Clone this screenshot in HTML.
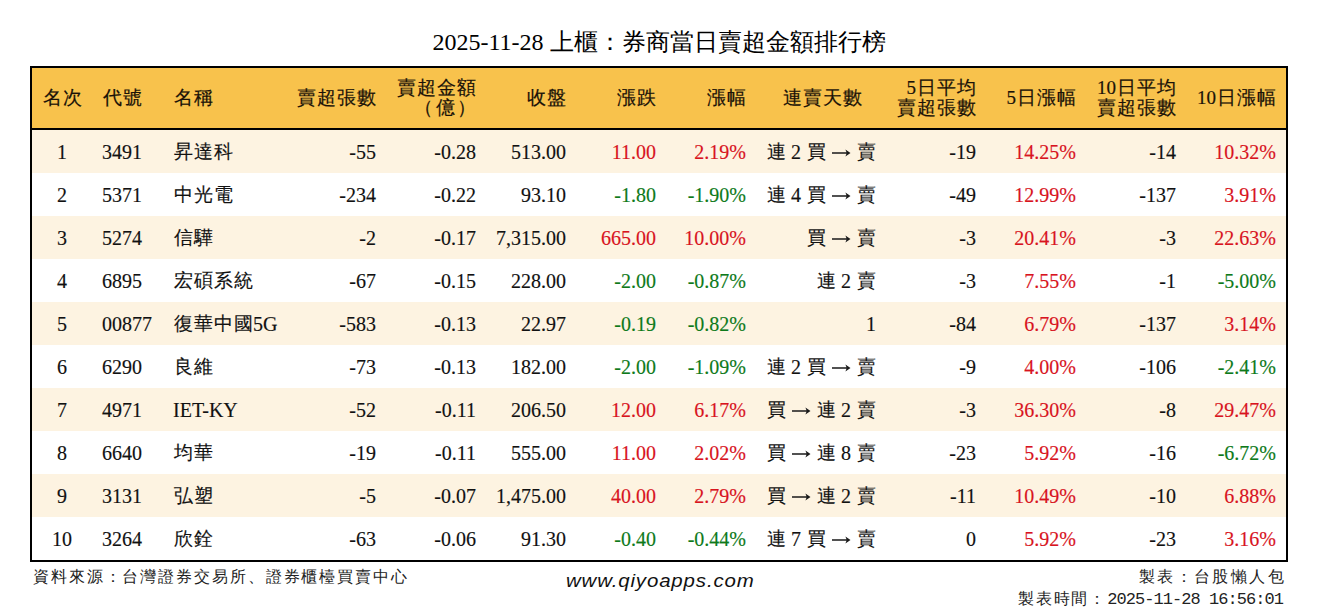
<!DOCTYPE html><html><head><meta charset="utf-8"><title>券商當日賣超金額排行榜</title><style>
*{margin:0;padding:0;box-sizing:border-box}
html,body{width:1318px;height:612px;background:#fff;overflow:hidden}
body{position:relative;font-family:"Liberation Serif",serif;color:#111}
.t{position:absolute;left:0;width:1318px;top:25px;height:34px;line-height:34px;font-size:24px;text-align:center;color:#000;white-space:nowrap}
.box{position:absolute;left:30px;top:66px;width:1258px;height:496px;border:2px solid #000}
.hd{position:absolute;left:32px;top:68px;width:1254px;height:60px;background:#F8C24C}
.hl{position:absolute;left:32px;top:128px;width:1254px;height:2px;background:#000}
.rw{position:absolute;left:32px;width:1254px;height:43px}
.cr{background:#FDF3E1}
.c{position:absolute;top:1px;height:43px;line-height:43px;font-size:20px;white-space:nowrap;-webkit-text-stroke:0.15px currentColor}
.h{position:absolute;font-size:19px;line-height:20px;white-space:nowrap;color:#1a1208;-webkit-text-stroke:0.2px #1a1208}
.s1{top:88px}
.s2{top:78px}
.k{font-size:19px;letter-spacing:1px;padding-left:.5px;margin-right:-.5px;line-height:1}
.c .k{position:relative;top:-1px}
.r{color:#D8141E}
.g{color:#0E7A1A}
.sans{font-family:"Liberation Sans",sans-serif}
.dg{font-family:"Liberation Mono",monospace;font-size:17px;letter-spacing:-0.95px}
.f{position:absolute;font-size:16px;letter-spacing:1.9px;line-height:20px;white-space:nowrap;color:#222}
.www{position:absolute;font-family:"Liberation Sans",sans-serif;font-style:italic;font-size:19px;line-height:22px;letter-spacing:0.8px;transform:scaleX(1.075);transform-origin:0 0;white-space:nowrap;color:#111}
</style></head><body>
<div class="t">2025-11-28 上櫃：券商當日賣超金額排行榜</div>
<div class="box"></div><div class="hd"></div><div class="hl"></div>
<div class="h s1" style="left:12px;width:100px;text-align:center"><span class="k">名次</span></div>
<div class="h s1" style="left:102px"><span class="k">代號</span></div>
<div class="h s1" style="left:173px"><span class="k">名稱</span></div>
<div class="h s1" style="right:942px;text-align:right"><span class="k">賣超張數</span></div>
<div class="h s2" style="right:842px;text-align:right"><span class="k">賣超金額</span><br><span class="k">（</span><span class="k" style="margin-left:2px">億</span><span class="k" style="margin-left:1px;margin-right:-1px">）</span></div>
<div class="h s1" style="right:752px;text-align:right"><span class="k">收盤</span></div>
<div class="h s1" style="right:662px;text-align:right"><span class="k">漲跌</span></div>
<div class="h s1" style="right:572px;text-align:right"><span class="k">漲幅</span></div>
<div class="h s1" style="right:456px;text-align:right"><span class="k">連賣天數</span></div>
<div class="h s2" style="right:342px;text-align:right">5<span class="k">日平均</span><br><span class="k">賣超張數</span></div>
<div class="h s1" style="right:242px;text-align:right">5<span class="k">日漲幅</span></div>
<div class="h s2" style="right:142px;text-align:right">10<span class="k">日平均</span><br><span class="k">賣超張數</span></div>
<div class="h s1" style="right:42px;text-align:right">10<span class="k">日漲幅</span></div>
<div class="rw cr" style="top:130px">
<div class="c" style="left:-20px;width:100px;text-align:center">1</div>
<div class="c" style="left:70px">3491</div>
<div class="c" style="left:141px"><span class="k">昇達科</span></div>
<div class="c" style="right:910px;text-align:right">-55</div>
<div class="c" style="right:810px;text-align:right">-0.28</div>
<div class="c" style="right:720px;text-align:right">513.00</div>
<div class="c r" style="right:630px;text-align:right">11.00</div>
<div class="c r" style="right:540px;text-align:right">2.19%</div>
<div class="c" style="right:410px;text-align:right"><span class="k">連</span> 2 <span class="k">買</span> <svg width="20" height="8" viewBox="0 0 20 8" style="vertical-align:2.5px"><path d="M1 3.15H16V4.85H1Z M14.4 0.5L19.5 4L14.4 7.5L15.8 4Z" fill="#1a1a1a"/></svg> <span class="k">賣</span></div>
<div class="c" style="right:310px;text-align:right">-19</div>
<div class="c r" style="right:210px;text-align:right">14.25%</div>
<div class="c" style="right:110px;text-align:right">-14</div>
<div class="c r" style="right:10px;text-align:right">10.32%</div>
</div>
<div class="rw" style="top:173px">
<div class="c" style="left:-20px;width:100px;text-align:center">2</div>
<div class="c" style="left:70px">5371</div>
<div class="c" style="left:141px"><span class="k">中光電</span></div>
<div class="c" style="right:910px;text-align:right">-234</div>
<div class="c" style="right:810px;text-align:right">-0.22</div>
<div class="c" style="right:720px;text-align:right">93.10</div>
<div class="c g" style="right:630px;text-align:right">-1.80</div>
<div class="c g" style="right:540px;text-align:right">-1.90%</div>
<div class="c" style="right:410px;text-align:right"><span class="k">連</span> 4 <span class="k">買</span> <svg width="20" height="8" viewBox="0 0 20 8" style="vertical-align:2.5px"><path d="M1 3.15H16V4.85H1Z M14.4 0.5L19.5 4L14.4 7.5L15.8 4Z" fill="#1a1a1a"/></svg> <span class="k">賣</span></div>
<div class="c" style="right:310px;text-align:right">-49</div>
<div class="c r" style="right:210px;text-align:right">12.99%</div>
<div class="c" style="right:110px;text-align:right">-137</div>
<div class="c r" style="right:10px;text-align:right">3.91%</div>
</div>
<div class="rw cr" style="top:216px">
<div class="c" style="left:-20px;width:100px;text-align:center">3</div>
<div class="c" style="left:70px">5274</div>
<div class="c" style="left:141px"><span class="k">信驊</span></div>
<div class="c" style="right:910px;text-align:right">-2</div>
<div class="c" style="right:810px;text-align:right">-0.17</div>
<div class="c" style="right:720px;text-align:right">7,315.00</div>
<div class="c r" style="right:630px;text-align:right">665.00</div>
<div class="c r" style="right:540px;text-align:right">10.00%</div>
<div class="c" style="right:410px;text-align:right"><span class="k">買</span> <svg width="20" height="8" viewBox="0 0 20 8" style="vertical-align:2.5px"><path d="M1 3.15H16V4.85H1Z M14.4 0.5L19.5 4L14.4 7.5L15.8 4Z" fill="#1a1a1a"/></svg> <span class="k">賣</span></div>
<div class="c" style="right:310px;text-align:right">-3</div>
<div class="c r" style="right:210px;text-align:right">20.41%</div>
<div class="c" style="right:110px;text-align:right">-3</div>
<div class="c r" style="right:10px;text-align:right">22.63%</div>
</div>
<div class="rw" style="top:259px">
<div class="c" style="left:-20px;width:100px;text-align:center">4</div>
<div class="c" style="left:70px">6895</div>
<div class="c" style="left:141px"><span class="k">宏碩系統</span></div>
<div class="c" style="right:910px;text-align:right">-67</div>
<div class="c" style="right:810px;text-align:right">-0.15</div>
<div class="c" style="right:720px;text-align:right">228.00</div>
<div class="c g" style="right:630px;text-align:right">-2.00</div>
<div class="c g" style="right:540px;text-align:right">-0.87%</div>
<div class="c" style="right:410px;text-align:right"><span class="k">連</span> 2 <span class="k">賣</span></div>
<div class="c" style="right:310px;text-align:right">-3</div>
<div class="c r" style="right:210px;text-align:right">7.55%</div>
<div class="c" style="right:110px;text-align:right">-1</div>
<div class="c g" style="right:10px;text-align:right">-5.00%</div>
</div>
<div class="rw cr" style="top:302px">
<div class="c" style="left:-20px;width:100px;text-align:center">5</div>
<div class="c" style="left:70px">00877</div>
<div class="c" style="left:141px"><span class="k">復華中國</span>5G</div>
<div class="c" style="right:910px;text-align:right">-583</div>
<div class="c" style="right:810px;text-align:right">-0.13</div>
<div class="c" style="right:720px;text-align:right">22.97</div>
<div class="c g" style="right:630px;text-align:right">-0.19</div>
<div class="c g" style="right:540px;text-align:right">-0.82%</div>
<div class="c" style="right:410px;text-align:right">1</div>
<div class="c" style="right:310px;text-align:right">-84</div>
<div class="c r" style="right:210px;text-align:right">6.79%</div>
<div class="c" style="right:110px;text-align:right">-137</div>
<div class="c r" style="right:10px;text-align:right">3.14%</div>
</div>
<div class="rw" style="top:345px">
<div class="c" style="left:-20px;width:100px;text-align:center">6</div>
<div class="c" style="left:70px">6290</div>
<div class="c" style="left:141px"><span class="k">良維</span></div>
<div class="c" style="right:910px;text-align:right">-73</div>
<div class="c" style="right:810px;text-align:right">-0.13</div>
<div class="c" style="right:720px;text-align:right">182.00</div>
<div class="c g" style="right:630px;text-align:right">-2.00</div>
<div class="c g" style="right:540px;text-align:right">-1.09%</div>
<div class="c" style="right:410px;text-align:right"><span class="k">連</span> 2 <span class="k">買</span> <svg width="20" height="8" viewBox="0 0 20 8" style="vertical-align:2.5px"><path d="M1 3.15H16V4.85H1Z M14.4 0.5L19.5 4L14.4 7.5L15.8 4Z" fill="#1a1a1a"/></svg> <span class="k">賣</span></div>
<div class="c" style="right:310px;text-align:right">-9</div>
<div class="c r" style="right:210px;text-align:right">4.00%</div>
<div class="c" style="right:110px;text-align:right">-106</div>
<div class="c g" style="right:10px;text-align:right">-2.41%</div>
</div>
<div class="rw cr" style="top:388px">
<div class="c" style="left:-20px;width:100px;text-align:center">7</div>
<div class="c" style="left:70px">4971</div>
<div class="c" style="left:141px">IET-KY</div>
<div class="c" style="right:910px;text-align:right">-52</div>
<div class="c" style="right:810px;text-align:right">-0.11</div>
<div class="c" style="right:720px;text-align:right">206.50</div>
<div class="c r" style="right:630px;text-align:right">12.00</div>
<div class="c r" style="right:540px;text-align:right">6.17%</div>
<div class="c" style="right:410px;text-align:right"><span class="k">買</span> <svg width="20" height="8" viewBox="0 0 20 8" style="vertical-align:2.5px"><path d="M1 3.15H16V4.85H1Z M14.4 0.5L19.5 4L14.4 7.5L15.8 4Z" fill="#1a1a1a"/></svg> <span class="k">連</span> 2 <span class="k">賣</span></div>
<div class="c" style="right:310px;text-align:right">-3</div>
<div class="c r" style="right:210px;text-align:right">36.30%</div>
<div class="c" style="right:110px;text-align:right">-8</div>
<div class="c r" style="right:10px;text-align:right">29.47%</div>
</div>
<div class="rw" style="top:431px">
<div class="c" style="left:-20px;width:100px;text-align:center">8</div>
<div class="c" style="left:70px">6640</div>
<div class="c" style="left:141px"><span class="k">均華</span></div>
<div class="c" style="right:910px;text-align:right">-19</div>
<div class="c" style="right:810px;text-align:right">-0.11</div>
<div class="c" style="right:720px;text-align:right">555.00</div>
<div class="c r" style="right:630px;text-align:right">11.00</div>
<div class="c r" style="right:540px;text-align:right">2.02%</div>
<div class="c" style="right:410px;text-align:right"><span class="k">買</span> <svg width="20" height="8" viewBox="0 0 20 8" style="vertical-align:2.5px"><path d="M1 3.15H16V4.85H1Z M14.4 0.5L19.5 4L14.4 7.5L15.8 4Z" fill="#1a1a1a"/></svg> <span class="k">連</span> 8 <span class="k">賣</span></div>
<div class="c" style="right:310px;text-align:right">-23</div>
<div class="c r" style="right:210px;text-align:right">5.92%</div>
<div class="c" style="right:110px;text-align:right">-16</div>
<div class="c g" style="right:10px;text-align:right">-6.72%</div>
</div>
<div class="rw cr" style="top:474px">
<div class="c" style="left:-20px;width:100px;text-align:center">9</div>
<div class="c" style="left:70px">3131</div>
<div class="c" style="left:141px"><span class="k">弘塑</span></div>
<div class="c" style="right:910px;text-align:right">-5</div>
<div class="c" style="right:810px;text-align:right">-0.07</div>
<div class="c" style="right:720px;text-align:right">1,475.00</div>
<div class="c r" style="right:630px;text-align:right">40.00</div>
<div class="c r" style="right:540px;text-align:right">2.79%</div>
<div class="c" style="right:410px;text-align:right"><span class="k">買</span> <svg width="20" height="8" viewBox="0 0 20 8" style="vertical-align:2.5px"><path d="M1 3.15H16V4.85H1Z M14.4 0.5L19.5 4L14.4 7.5L15.8 4Z" fill="#1a1a1a"/></svg> <span class="k">連</span> 2 <span class="k">賣</span></div>
<div class="c" style="right:310px;text-align:right">-11</div>
<div class="c r" style="right:210px;text-align:right">10.49%</div>
<div class="c" style="right:110px;text-align:right">-10</div>
<div class="c r" style="right:10px;text-align:right">6.88%</div>
</div>
<div class="rw" style="top:517px">
<div class="c" style="left:-20px;width:100px;text-align:center">10</div>
<div class="c" style="left:70px">3264</div>
<div class="c" style="left:141px"><span class="k">欣銓</span></div>
<div class="c" style="right:910px;text-align:right">-63</div>
<div class="c" style="right:810px;text-align:right">-0.06</div>
<div class="c" style="right:720px;text-align:right">91.30</div>
<div class="c g" style="right:630px;text-align:right">-0.40</div>
<div class="c g" style="right:540px;text-align:right">-0.44%</div>
<div class="c" style="right:410px;text-align:right"><span class="k">連</span> 7 <span class="k">買</span> <svg width="20" height="8" viewBox="0 0 20 8" style="vertical-align:2.5px"><path d="M1 3.15H16V4.85H1Z M14.4 0.5L19.5 4L14.4 7.5L15.8 4Z" fill="#1a1a1a"/></svg> <span class="k">賣</span></div>
<div class="c" style="right:310px;text-align:right">0</div>
<div class="c r" style="right:210px;text-align:right">5.92%</div>
<div class="c" style="right:110px;text-align:right">-23</div>
<div class="c r" style="right:10px;text-align:right">3.16%</div>
</div>
<div class="f" style="left:33px;top:567px">資料來源：台灣證券交易所、證券櫃檯買賣中心</div>
<div class="www" style="left:566px;top:569.5px">www.qiyoapps.com</div>
<div class="f" style="right:32px;top:567px;text-align:right;letter-spacing:2.4px">製表：台股懶人包</div>
<div class="f" style="right:35px;top:588.5px;text-align:right">製表時間：<span class="dg">2025-11-28 16:56:01</span></div>
</body></html>
